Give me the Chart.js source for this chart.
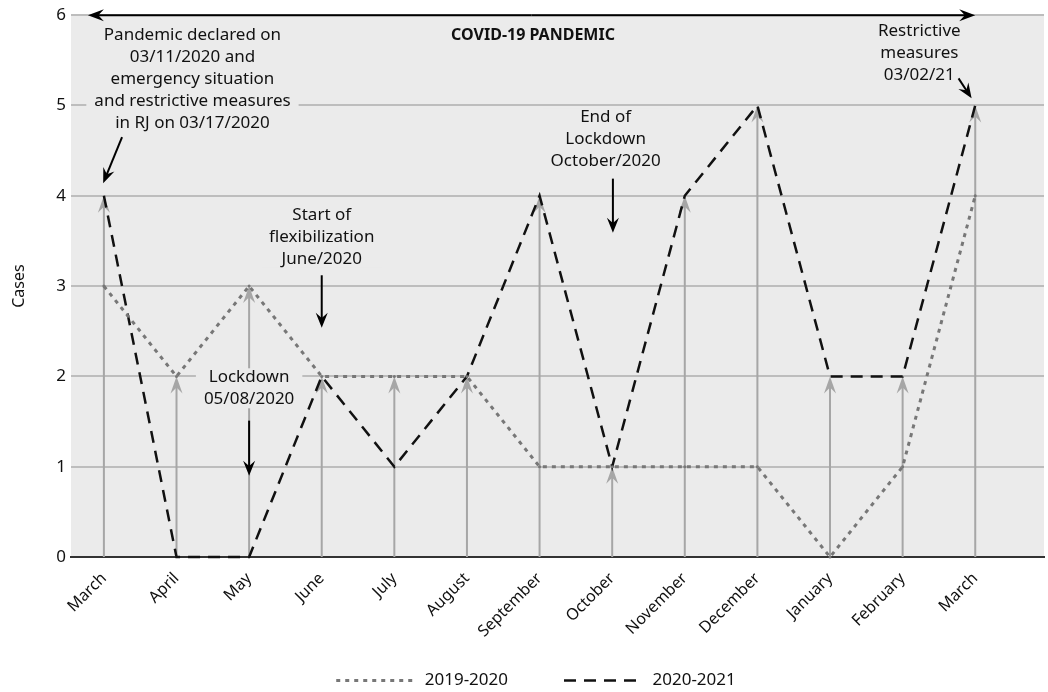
<!DOCTYPE html>
<html>
<head>
<meta charset="utf-8">
<script src="https://cdn.jsdelivr.net/npm/chart.js@4"></script>
<style>
  html, body { margin: 0; padding: 0; background: #fff; }
  #wrap { width: 1048px; height: 692px; }
</style>
</head>
<body>
<div id="wrap"><canvas id="grafico"></canvas></div>
<script>
const meses = ['March', 'April', 'May', 'June', 'July', 'August', 'September',
  'October', 'November', 'December', 'January', 'February', 'March'];
const casos2019 = [3, 2, 3, 2, 2, 2, 1, 1, 1, 1, 0, 1, 4];
const casos2020 = [4, 0, 0, 2, 1, 2, 4, 1, 4, 5, 2, 2, 5];
const yTicks = [0, 1, 2, 3, 4, 5, 6];

// notes: text lines, centre (x index / y value), arrow from -> to
const notas = [
  { linhas: ['Pandemic declared on', '03/11/2020 and', 'emergency situation', 'and restrictive measures', 'in RJ on 03/17/2020'],
    x: 1.22, y: 5.78, de: [0.25, 4.65], para: [-0.01, 4.14] },
  { linhas: ['Start of', 'flexibilization', 'June/2020'],
    x: 3.0, y: 3.79, de: [3.0, 3.12], para: [3.0, 2.54] },
  { linhas: ['Lockdown', '05/08/2020'],
    x: 2.0, y: 1.99, de: [2.0, 1.51], para: [2.0, 0.9] },
  { linhas: ['End of', 'Lockdown', 'October/2020'],
    x: 6.91, y: 4.87, de: [7.01, 4.19], para: [7.01, 3.59] },
  { linhas: ['Restrictive', 'measures', '03/02/21'],
    x: 11.23, y: 5.82, de: [11.77, 5.30], para: [11.95, 5.08] }
];

const FONTE = "'Noto Sans', sans-serif";
const FUNDO = '#ebebeb';

function seta(ctx, x1, y1, x2, y2, cor, largura, comp, meia) {
  const ang = Math.atan2(y2 - y1, x2 - x1);
  ctx.save();
  ctx.strokeStyle = cor;
  ctx.fillStyle = cor;
  ctx.lineWidth = largura;
  ctx.setLineDash([]);
  ctx.beginPath();
  ctx.moveTo(x1, y1);
  ctx.lineTo(x2 - Math.cos(ang) * comp * 0.6, y2 - Math.sin(ang) * comp * 0.6);
  ctx.stroke();
  ctx.translate(x2, y2);
  ctx.rotate(ang);
  ctx.beginPath();
  ctx.moveTo(0, 0);
  ctx.lineTo(-comp, -meia);
  ctx.lineTo(-comp * 0.65, 0);
  ctx.lineTo(-comp, meia);
  ctx.closePath();
  ctx.fill();
  ctx.restore();
}

const fundoPlugin = {
  id: 'fundo',
  afterLayout(chart) {
    // push the legend down to the bottom edge and a bit to the right
    const lg = chart.legend;
    const h = lg.bottom - lg.top;
    lg.top = 616;
    lg.bottom = 616 + h;
    lg.left += 12;
    lg.right += 12;
    // let the rotated month labels use the space under the axis
    chart.scales.x.bottom = chart.height;
  },
  beforeDraw(chart) {
    const a = chart.chartArea;
    const ctx = chart.ctx;
    ctx.save();
    ctx.fillStyle = FUNDO;
    ctx.fillRect(a.left, a.top, a.right - a.left, a.bottom - a.top);
    ctx.restore();
  },
  beforeDatasetsDraw(chart) {
    // grey arrows from 0 up to the highest value of each month
    const x = chart.scales.x, y = chart.scales.y;
    const ctx = chart.ctx;
    meses.forEach((m, i) => {
      const topo = Math.max(casos2019[i], casos2020[i]);
      const px = x.getPixelForValue(i);
      seta(ctx, px, y.getPixelForValue(0), px, y.getPixelForValue(topo), '#a6a6a6', 2, 17, 6);
    });
  },
  afterDatasetsDraw(chart) {
    const x = chart.scales.x, y = chart.scales.y;
    const ctx = chart.ctx;

    // pandemic period arrow
    const yTopo = y.getPixelForValue(6);
    const xa = x.getPixelForValue(-0.22), xb = x.getPixelForValue(12);
    const meio = (xa + xb) / 2;
    seta(ctx, meio, yTopo, xa, yTopo, '#000', 2, 16, 6);
    seta(ctx, meio, yTopo, xb, yTopo, '#000', 2, 16, 6);

    ctx.save();
    ctx.fillStyle = '#111';
    ctx.font = 'bold 16px ' + FONTE;
    ctx.textAlign = 'center';
    ctx.textBaseline = 'middle';
    ctx.fillText('COVID-19 PANDEMIC', x.getPixelForValue(5.91), y.getPixelForValue(5.78));
    ctx.restore();

    notas.forEach(n => {
      const cx = x.getPixelForValue(n.x);
      const cy = y.getPixelForValue(n.y);
      ctx.save();
      ctx.font = '17px ' + FONTE;
      ctx.textAlign = 'center';
      ctx.textBaseline = 'middle';
      const larg = Math.max(...n.linhas.map(l => ctx.measureText(l).width));
      ctx.fillStyle = FUNDO;
      ctx.fillRect(cx - larg / 2 - 8, cy - 9, larg + 16, (n.linhas.length - 1) * 22 + 18);
      ctx.fillStyle = '#111';
      n.linhas.forEach((l, k) => ctx.fillText(l, cx, cy + k * 22));
      ctx.restore();
      seta(ctx, x.getPixelForValue(n.de[0]), y.getPixelForValue(n.de[1]),
        x.getPixelForValue(n.para[0]), y.getPixelForValue(n.para[1]), '#000', 2, 15, 6);
    });
  }
};

new Chart(document.getElementById('grafico'), {
  type: 'line',
  data: {
    datasets: [
      {
        label: '2019-2020',
        data: casos2019.map((v, i) => ({ x: i, y: v })),
        borderColor: '#777777',
        backgroundColor: '#777777',
        borderWidth: 3,
        borderDash: [4, 5],
        pointRadius: 1.5,
        pointBorderWidth: 0,
        tension: 0
      },
      {
        label: '2020-2021',
        data: casos2020.map((v, i) => ({ x: i, y: v })),
        borderColor: '#111111',
        backgroundColor: '#111111',
        borderWidth: 2.5,
        borderDash: [12, 8],
        pointRadius: 0,
        tension: 0
      }
    ]
  },
  options: {
    responsive: true,
    maintainAspectRatio: false,
    animation: false,
    clip: false,
    layout: { padding: { top: 10, right: 0, left: 0, bottom: 0 } },
    plugins: {
      legend: {
        position: 'bottom',
        labels: {
          usePointStyle: true,
          pointStyle: 'line',
          pointStyleWidth: 80,
          boxHeight: 17,
          padding: 56,
          color: '#111',
          font: { family: FONTE, size: 17 },
          generateLabels(chart) {
            return chart.data.datasets.map((ds, i) => ({
              text: ds.label,
              datasetIndex: i,
              fillStyle: ds.borderColor,
              strokeStyle: ds.borderColor,
              fontColor: '#111',
              lineWidth: ds.borderWidth,
              lineDash: ds.borderDash,
              pointStyle: 'line',
              hidden: false
            }));
          }
        }
      },
      tooltip: { enabled: false }
    },
    scales: {
      x: {
        type: 'linear',
        min: -0.453,
        max: 12.947,
        afterBuildTicks(scale) {
          scale.ticks = meses.map((m, i) => ({ value: i }));
        },
        afterFit(scale) { scale.height = 52; },
        grid: { display: false },
        border: { display: true, color: '#333', width: 2 },
        ticks: {
          minRotation: 45,
          maxRotation: 45,
          autoSkip: false,
          padding: 4,
          color: '#111',
          font: { family: FONTE, size: 16 },
          callback: v => meses[v]
        }
      },
      y: {
        min: 0,
        max: 6,
        afterBuildTicks(scale) {
          scale.ticks = yTicks.map(v => ({ value: v }));
        },
        afterFit(scale) { scale.width = 71; },
        grid: { color: '#bdbdbd', lineWidth: 2, drawTicks: false },
        border: { display: false },
        ticks: {
          padding: 5,
          color: '#111',
          font: { family: FONTE, size: 17 }
        },
        title: {
          display: true,
          text: 'Cases',
          color: '#111',
          font: { family: FONTE, size: 16 },
          padding: { top: 10, bottom: 0 }
        }
      }
    }
  },
  plugins: [fundoPlugin]
});
</script>
</body>
</html>
